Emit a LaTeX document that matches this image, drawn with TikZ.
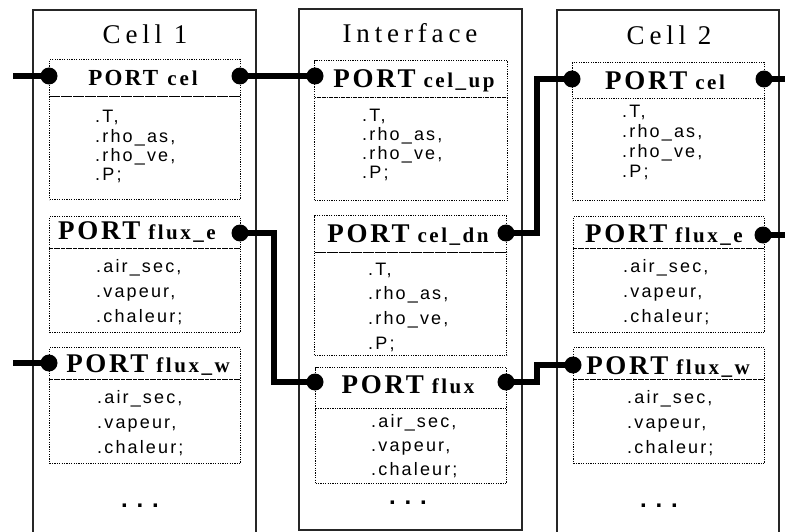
\documentclass[tikz,border=0pt]{standalone}
\usepackage{fontspec}
\setmainfont{Liberation Serif}
\newfontfamily\titlefont[LetterSpace=18]{Liberation Serif}
\newfontfamily\portfont[LetterSpace=10]{Liberation Serif}
\newfontfamily\labfont[LetterSpace=12]{Liberation Serif}
\newfontfamily\bodyfont[LetterSpace=12]{Liberation Sans}
\newfontfamily\dotsfont{Liberation Sans}
\newcommand\portlab[1]{{\portfont\bfseries\fontsize{27}{30}\selectfont PORT}\hspace{8pt}{\labfont\bfseries\fontsize{21}{24}\selectfont #1}}
\tikzset{
  cellframe/.style={draw=black!85, line width=1.4pt},
  pbox/.style={draw, line width=1.2pt, dash pattern=on 1.2pt off 1.2pt, anchor=north west, inner sep=0pt},
  titletext/.style={font=\titlefont\fontsize{27}{30}\selectfont, anchor=base, inner sep=0pt},
  headtext/.style={anchor=base, inner sep=0pt},
  bodytext/.style={font=\bodyfont\fontsize{18}{#1}\selectfont, anchor=base west, inner sep=0pt, text width=110pt, align=left},
  pin/.style={circle, fill=black, inner sep=0pt, minimum size=17pt},
  conn/.style={line width=6pt, line join=miter},
  dotstext/.style={font=\dotsfont\bfseries\fontsize{24}{26}\selectfont, anchor=base, inner sep=0pt},
}
\begin{document}
\begin{tikzpicture}[x=1pt,y=-1pt]
\useasboundingbox (0,0) rectangle (785,532);
\fill[white] (0,0) rectangle (785,532);
% frames
\draw[cellframe] (33,532) -- (33,10) -- (256,10) -- (256,532);
\draw[cellframe] (299,9) rectangle (522,530);
\draw[cellframe] (557,532) -- (557,10) -- (779,10) -- (779,532);
% titles
\node[titletext] (t1) at (145,44) {Cell 1};
\node[titletext] (t2) at (410,43) {Interface};
\node[titletext] (t3) at (669,45) {Cell 2};
% port boxes cell 1
\node[pbox, minimum width=191pt, minimum height=37pt] (c1celH) at (49,59) {};
\node[pbox, minimum width=191pt, minimum height=103pt] (c1celB) at (49,96) {};
\node[pbox, minimum width=191pt, minimum height=32pt] (c1fxeH) at (49,216) {};
\node[pbox, minimum width=191pt, minimum height=84pt] (c1fxeB) at (49,248) {};
\node[pbox, minimum width=191pt, minimum height=32pt] (c1fxwH) at (49,347) {};
\node[pbox, minimum width=191pt, minimum height=84pt] (c1fxwB) at (49,379) {};
% interface
\node[pbox, minimum width=193pt, minimum height=37pt] (iCupH) at (314,60) {};
\node[pbox, minimum width=193pt, minimum height=103pt] (iCupB) at (314,97) {};
\node[pbox, minimum width=192pt, minimum height=37pt] (iCdnH) at (314,215) {};
\node[pbox, minimum width=192pt, minimum height=103pt] (iCdnB) at (314,252) {};
\node[pbox, minimum width=191pt, minimum height=41pt] (iFluxH) at (315,367) {};
\node[pbox, minimum width=191pt, minimum height=75pt] (iFluxB) at (315,408) {};
% cell 2
\node[pbox, minimum width=192pt, minimum height=36pt] (c2celH) at (572,62) {};
\node[pbox, minimum width=192pt, minimum height=102pt] (c2celB) at (572,98) {};
\node[pbox, minimum width=191pt, minimum height=32pt] (c2fxeH) at (573,216) {};
\node[pbox, minimum width=191pt, minimum height=84pt] (c2fxeB) at (573,248) {};
\node[pbox, minimum width=191pt, minimum height=32pt] (c2fxwH) at (573,347) {};
\node[pbox, minimum width=191pt, minimum height=84pt] (c2fxwB) at (573,379) {};
% header texts
\node[headtext] (c1celT) at (143,86) {{\portfont\bfseries\fontsize{23}{26}\selectfont PORT}\hspace{9pt}{\labfont\bfseries\fontsize{21}{22}\selectfont c\hspace{3pt}e\hspace{3pt}l}};
\node[headtext] (c1fxeT) at (137,240) {\portlab{flux\_e}};
\node[headtext] (c1fxwT) at (148,372) {\portlab{flux\_w}};
\node[headtext] (iCupT) at (414,88) {\portlab{cel\_up}};
\node[headtext] (iCdnT) at (408,243) {\portlab{cel\_dn}};
\node[headtext] (iFluxT) at (408,393) {\portlab{flux}};
\node[headtext] (c2celT) at (665,90) {\portlab{cel}};
\node[headtext] (c2fxeT) at (664,242) {\portlab{flux\_e}};
\node[headtext] (c2fxwT) at (668,374) {\portlab{flux\_w}};
% body texts
\node[bodytext=19.2] (c1celX) at (95,123) {.T,\\.rho\_as,\\.rho\_ve,\\.P;};
\node[bodytext=25.5] (c1fxeX) at (96,272) {.air\_sec,\\.vapeur,\\.chaleur;};
\node[bodytext=25] (c1fxwX) at (97,403) {.air\_sec,\\.vapeur,\\.chaleur;};
\node[bodytext=19] (iCupX) at (362,122) {.T,\\.rho\_as,\\.rho\_ve,\\.P;};
\node[bodytext=24.7] (iCdnX) at (368,275) {.T,\\.rho\_as,\\.rho\_ve,\\.P;};
\node[bodytext=24] (iFluxX) at (371,427) {.air\_sec,\\.vapeur,\\.chaleur;};
\node[bodytext=19.7] (c2celX) at (622,118) {.T,\\.rho\_as,\\.rho\_ve,\\.P;};
\node[bodytext=25.5] (c2fxeX) at (623,272) {.air\_sec,\\.vapeur,\\.chaleur;};
\node[bodytext=25] (c2fxwX) at (627,403) {.air\_sec,\\.vapeur,\\.chaleur;};
% dots
\node[dotstext] (d1) at (140,507) {. . .};
\node[dotstext] (d2) at (408,504) {. . .};
\node[dotstext] (d3) at (659,507) {. . .};
% pins
\node[pin] (c1celL) at (49,76) {};
\node[pin] (c1celR) at (240,76) {};
\node[pin] (iCupL) at (315,76) {};
\node[pin] (iCdnR) at (506,233) {};
\node[pin] (c2celL) at (572,79) {};
\node[pin] (c2celR) at (764,79) {};
\node[pin] (c1fxeR) at (240,233) {};
\node[pin] (iFluxL) at (315,382) {};
\node[pin] (iFluxR) at (506,382) {};
\node[pin] (c2fxwL) at (573,365) {};
\node[pin] (c1fxwL) at (49,363) {};
\node[pin] (c2fxeR) at (763,235) {};
\coordinate (s1) at (13,76);
\coordinate (s7) at (13,363);
\coordinate (e4) at (785,79);
\coordinate (e8) at (785,235);
% connectors
\draw[conn] (s1) -- (c1celL.center);
\draw[conn] (c1celR.center) -- (iCupL.center);
\draw[conn] (iCdnR.center) -- ++(31,0) |- (c2celL.center);
\draw[conn] (c2celR.center) -- (e4);
\draw[conn] (c1fxeR.center) -- ++(34,0) |- (iFluxL.center);
\draw[conn] (iFluxR.center) -- ++(31,0) |- (c2fxwL.center);
\draw[conn] (s7) -- (c1fxwL.center);
\draw[conn] (c2fxeR.center) -- (e8);
\end{tikzpicture}
\end{document}
